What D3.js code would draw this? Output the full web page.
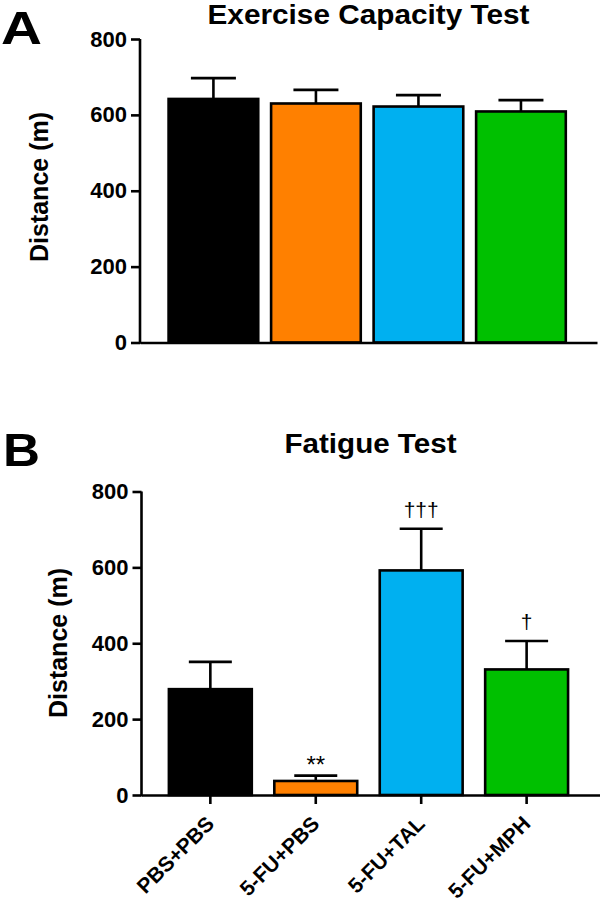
<!DOCTYPE html>
<html>
<head>
<meta charset="utf-8">
<script src="https://cdn.jsdelivr.net/npm/d3@7"></script>
<style>
  html, body { margin: 0; padding: 0; background: #fff; }
  svg { display: block; font-family: "Liberation Sans", Arial, sans-serif; }
</style>
</head>
<body>
<svg id="chart" width="600" height="904"></svg>
<script>
// ---- data ----
const groups = ["PBS+PBS", "5-FU+PBS", "5-FU+TAL", "5-FU+MPH"];
const barColors = ["#000000", "#FF8000", "#00B0F0", "#00C000"];
const capacityMean = [642, 630, 622, 609];
const capacityErr = [55, 36, 30, 30];
const fatigueMean = [279, 37, 592, 331];
const fatigueErr = [72, 14, 110, 75];
const fatigueMarks = ["", "**", "\u2020\u2020\u2020", "\u2020"];
const yTicks = [0, 200, 400, 600, 800];

const svg = d3.select("#chart");

function panel(opts) {
  const g = svg.append("g");
  const y = d3.scaleLinear().domain([0, 800]).range([opts.y0, opts.y800]);
  const x = d3.scaleBand().domain(groups)
    .range([opts.axisX, opts.axisEnd])
    .paddingInner(opts.pi).paddingOuter(opts.po).align(opts.align);

  // bars
  g.selectAll("rect.bar").data(groups).join("rect")
    .attr("class", "bar")
    .attr("x", d => x(d) + 1.3)
    .attr("width", x.bandwidth() - 2.6)
    .attr("y", (d, i) => y(opts.mean[i]))
    .attr("height", (d, i) => y(0) - y(opts.mean[i]))
    .attr("fill", (d, i) => barColors[i])
    .attr("stroke", "#000").attr("stroke-width", 2.6);

  // error bars
  const cap = opts.cap;
  g.selectAll("line.err").data(groups).join("line")
    .attr("class", "err")
    .attr("x1", d => x(d) + x.bandwidth() / 2)
    .attr("x2", d => x(d) + x.bandwidth() / 2)
    .attr("y1", (d, i) => y(opts.mean[i]))
    .attr("y2", (d, i) => y(opts.mean[i] + opts.err[i]))
    .attr("stroke", "#000").attr("stroke-width", 2.6);
  g.selectAll("line.cap").data(groups).join("line")
    .attr("class", "cap")
    .attr("x1", d => x(d) + x.bandwidth() / 2 - cap / 2)
    .attr("x2", d => x(d) + x.bandwidth() / 2 + cap / 2)
    .attr("y1", (d, i) => y(opts.mean[i] + opts.err[i]))
    .attr("y2", (d, i) => y(opts.mean[i] + opts.err[i]))
    .attr("stroke", "#000").attr("stroke-width", 2.6);

  // y axis
  const ya = g.append("g").attr("transform", `translate(${opts.axisX},0)`)
    .call(d3.axisLeft(y).tickValues(yTicks).tickSize(9).tickSizeOuter(0).tickPadding(4));
  ya.select(".domain").attr("stroke-width", 2.6).attr("d", `M0,${opts.y0 + 1.3}V${opts.y800}`);
  ya.selectAll(".tick line").attr("stroke-width", 2.6);
  ya.selectAll(".tick text").attr("font-size", 22).attr("font-weight", "bold")
    .attr("font-family", "Liberation Sans, Arial, sans-serif").attr("fill", "#000");

  // x axis
  const xa = g.append("g").attr("transform", `translate(0,${opts.y0})`)
    .call(d3.axisBottom(x).tickSize(opts.showX ? 9 : 0).tickSizeOuter(0));
  xa.select(".domain").attr("stroke-width", 2.6);
  xa.selectAll(".tick line").attr("stroke-width", 2.6);
  if (opts.showX) {
    xa.selectAll(".tick text")
      .attr("font-size", 21).attr("font-weight", "bold")
      .attr("font-family", "Liberation Sans, Arial, sans-serif").attr("fill", "#000")
      .attr("text-anchor", "end")
      .attr("dy", null)
      .attr("y", null)
      .attr("transform", "translate(5,30) rotate(-45)");
  } else {
    xa.selectAll(".tick text").remove();
  }

  // y label
  g.append("text")
    .attr("transform", `translate(${opts.ylabX},${opts.ylabY}) rotate(-90)`)
    .attr("text-anchor", "middle")
    .attr("font-size", 25).attr("font-weight", "bold")
    .text("Distance (m)");

  // title
  g.append("text")
    .attr("x", opts.titleX).attr("y", opts.titleY)
    .attr("text-anchor", "middle")
    .attr("font-size", 28).attr("font-weight", "bold")
    .attr("textLength", opts.titleLen).attr("lengthAdjust", "spacingAndGlyphs")
    .text(opts.title);

  // panel letter
  g.append("text")
    .attr("x", opts.letterX).attr("y", opts.letterY)
    .attr("font-size", 46).attr("font-weight", "bold")
    .attr("textLength", opts.letterLen).attr("lengthAdjust", "spacingAndGlyphs")
    .text(opts.letter);

  // significance marks
  if (opts.marks) {
    g.selectAll("text.mark").data(groups).join("text")
      .attr("class", "mark")
      .attr("x", d => x(d) + x.bandwidth() / 2)
      .attr("y", (d, i) => y(opts.mean[i] + opts.err[i]) - (i === 1 ? 3 : 12))
      .attr("text-anchor", "middle")
      .attr("font-size", (d, i) => i === 1 ? 24 : 21)
      .text((d, i) => opts.marks[i]);
  }
}

panel({
  mean: capacityMean, err: capacityErr,
  y0: 342.5, y800: 39,
  axisX: 140, axisEnd: 597, pi: 0.1, po: 0.279, align: 0.477,
  cap: 45, showX: false,
  ylabX: 48, ylabY: 187,
  title: "Exercise Capacity Test", titleX: 368.5, titleY: 23.5, titleLen: 322,
  letter: "A", letterX: 1, letterY: 43.5, letterLen: 41
});

panel({
  mean: fatigueMean, err: fatigueErr,
  y0: 795, y800: 491.5,
  axisX: 141.5, axisEnd: 600, pi: 0.189, po: 0.269, align: 0.46,
  cap: 43, showX: true,
  ylabX: 67, ylabY: 643,
  title: "Fatigue Test", titleX: 370.5, titleY: 453, titleLen: 172,
  letter: "B", letterX: 3, letterY: 466, letterLen: 37,
  marks: fatigueMarks
});
</script>
</body>
</html>
